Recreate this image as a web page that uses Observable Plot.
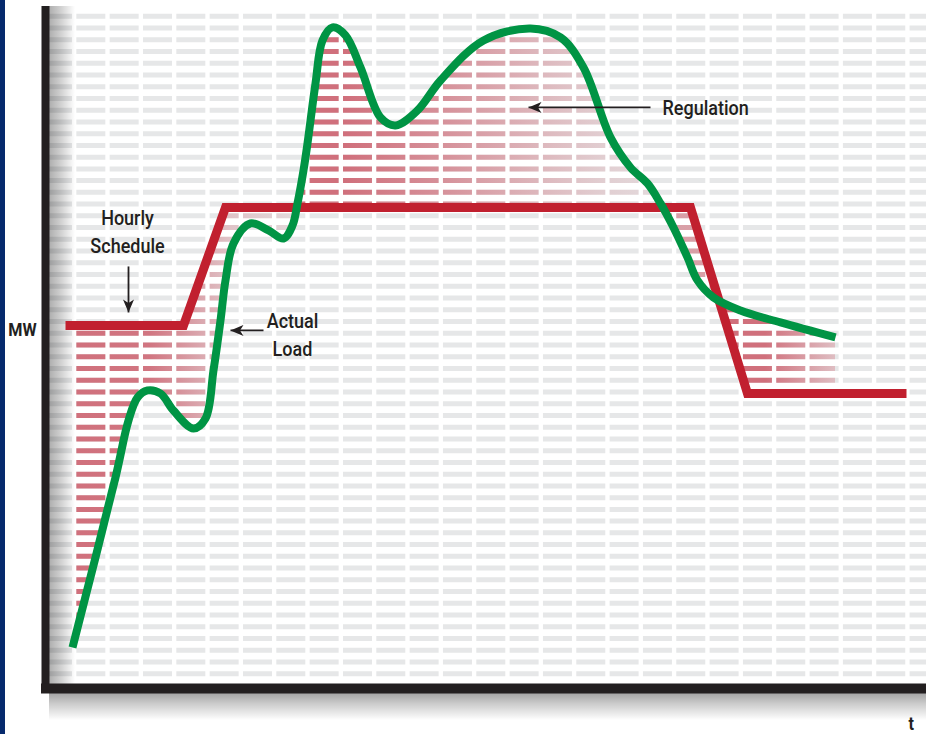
<!DOCTYPE html>
<html><head><meta charset="utf-8">
<script src="https://cdn.jsdelivr.net/npm/d3@7"></script>
<script src="https://cdn.jsdelivr.net/npm/@observablehq/plot@0.6"></script>
<style>
html,body{margin:0;padding:0;background:#fff;}
#wrap{position:relative;width:926px;height:734px;overflow:hidden;background:#fff;}
#wrap svg{position:absolute;left:0;top:0;}
#stripe{position:absolute;left:0;top:0;width:5px;height:734px;background:#062a6d;z-index:2;}
</style></head><body><div id="wrap"><div id="stripe"></div></div>
<script>
// ---- data (time units on x, MW units on y) ----
const loadT  = [0.81, 2.10, 2.49, 2.76, 3.06, 3.45, 3.84, 4.44, 4.80, 5.04, 5.25, 5.40, 5.64, 6.15, 6.69, 7.14, 7.41, 7.56, 7.74, 7.86, 8.10, 8.31, 8.61, 9.00, 9.45, 10.05, 10.50, 11.16, 11.85, 13.14, 14.55, 15.45, 16.14, 16.95, 17.55, 18.06, 18.45, 18.84, 19.26, 19.56, 20.04, 20.85, 22.05, 23.70];
const loadMW = [3.24, 17.72, 22.57, 24.53, 25.13, 24.87, 23.42, 21.89, 22.74, 26.83, 31.09, 34.50, 37.65, 39.35, 38.76, 38.07, 39.18, 41.06, 43.87, 46.17, 51.28, 54.94, 56.05, 55.37, 52.64, 48.38, 47.70, 48.98, 51.53, 54.94, 55.96, 55.20, 52.64, 46.68, 44.12, 42.76, 41.06, 39.01, 36.46, 34.50, 33.05, 31.94, 30.92, 29.64];
const schedT  = [0.60, 4.14, 5.40, 19.35, 21.06, 25.83];
const schedMW = [30.66, 30.66, 40.72, 40.72, 24.87, 24.87];

const labelText   = ["Hourly\nSchedule", "Actual\nLoad"];
const labelT      = [2.46, 7.41];
const labelMW     = [38.79, 30.02];
const regLabel    = ["Regulation"];
const regLabelT   = [18.51];
const regLabelMW  = [49.1];

const pointerFromT  = [2.49, 6.54, 18.15];
const pointerFromMW = [35.69, 30.24, 49.23];
const pointerToT    = [2.49, 5.55, 14.49];
const pointerToMW   = [31.77, 30.24, 49.23];

const axisLabelText = ["MW", "t"];
const axisLabelT    = [-0.69, 25.97];
const axisLabelMW   = [30.3, -3.3];

const T_MAX = 26.43, MW_MAX = 58;
const gridRows = d3.range(1, 58);

// ---- tables ----
const load  = loadT.map((t, i) => ({t, mw: loadMW[i]}));
const sched = schedT.map((t, i) => ({t, mw: schedMW[i]}));
const labels = labelText.map((text, i) => ({text, t: labelT[i], mw: labelMW[i]}));
const regLabels = regLabel.map((text, i) => ({text, t: regLabelT[i], mw: regLabelMW[i]}));
const pointers = pointerFromT.map((t, i) => ({t1: t, m1: pointerFromMW[i], t2: pointerToT[i], m2: pointerToMW[i]}));
const axisLabels = axisLabelText.map((text, i) => ({text, t: axisLabelT[i], mw: axisLabelMW[i]}));

const FONT = 'Roboto, "DejaVu Sans Condensed", sans-serif';
const INK = "#231f20";
const dash = "29 4.33";

const marks = {
  grid:   Plot.ruleY(gridRows, {y: d => d, x1: () => -0.06, x2: () => T_MAX, stroke: "#e6e7e8", strokeWidth: 5, strokeDasharray: dash}),
  reg:    Plot.ruleY(gridRows, {y: d => d, x1: () => -0.06, x2: () => T_MAX, stroke: "url(#regGrad)", strokeWidth: 5, strokeDasharray: dash}),
  loadA:  Plot.areaY(load, {x: "t", y: "mw", curve: "catmull-rom", fill: "#000", fillOpacity: 0}),
  schedA: Plot.areaY(sched, {x: "t", y: "mw", fill: "#000", fillOpacity: 0}),
  shL:    Plot.rect([0], {x1: () => 0.12, x2: () => 0.9, y1: () => -0.68, y2: () => 57.83, fill: "url(#shadowL)"}),
  shB:    Plot.rect([0], {x1: () => 0.12, x2: () => T_MAX, y1: () => -3.0, y2: () => -0.68, fill: "url(#shadowB)"}),
  schedL: Plot.line(sched, {x: "t", y: "mw", stroke: "#c1202f", strokeWidth: 9, strokeLinecap: "butt", strokeLinejoin: "miter", strokeMiterlimit: 10}),
  loadL:  Plot.line(load, {x: "t", y: "mw", curve: "catmull-rom", stroke: "#009444", strokeWidth: 8, strokeLinecap: "butt"}),
  axY:    Plot.ruleX([0], {y1: () => -0.68, y2: () => 57.83, stroke: INK, strokeWidth: 8}),
  axX:    Plot.ruleY([-0.26], {x1: () => -0.12, x2: () => T_MAX, stroke: INK, strokeWidth: 10}),
  ptr:    Plot.link(pointers, {x1: "t1", y1: "m1", x2: "t2", y2: "m2", stroke: INK, strokeWidth: 1.8}),
  lab:    Plot.text(labels, {x: "t", y: "mw", text: "text", textAnchor: "middle", lineHeight: 1.4, fontSize: 20, fontWeight: 500, fill: INK}),
  regLab: Plot.text(regLabels, {x: "t", y: "mw", text: "text", textAnchor: "start", fontSize: 20, fontWeight: 500, fill: INK}),
  axLab:  Plot.text(axisLabels, {x: "t", y: "mw", text: "text", textAnchor: "middle", fontSize: 18, fontWeight: "bold", fill: INK})
};
const markKeys = Object.keys(marks);

const plot = Plot.plot({
  width: 926, height: 734,
  marginLeft: 45, marginRight: 0, marginTop: 4, marginBottom: 49,
  x: {domain: [0, T_MAX], axis: null},
  y: {domain: [0, MW_MAX], axis: null},
  style: {background: "transparent", fontFamily: FONT, overflow: "visible"},
  marks: markKeys.map(k => marks[k])
});

document.getElementById("wrap").appendChild(plot);

// map rendered mark groups by order
const groups = [...plot.children].filter(n => n.tagName.toLowerCase() === "g");
const G = {};
markKeys.forEach((k, i) => G[k] = groups[i]);

// ---- defs: gradients, clip, markers ----
const svgns = "http://www.w3.org/2000/svg";
const svg = d3.select(plot);
const defs = svg.insert("defs", ":first-child");
const W = 926;
const RED_DASH = "#d0707c";
const regStops = [[72,1],[150,0.95],[230,0.3],[296,0.12],[296.5,1],[345,1],[450,0.7],[540,0.4],[600,0.22],[661,0.1],[661.5,0.6],[717,0.6],[717.5,1],[765,1],[835,0.35],[870,0]];
const rg = defs.append("linearGradient").attr("id", "regGrad").attr("gradientUnits", "userSpaceOnUse")
  .attr("x1", 0).attr("x2", W).attr("y1", 0).attr("y2", 0);
regStops.forEach(([px, op]) => rg.append("stop").attr("offset", px / W).attr("stop-color", RED_DASH).attr("stop-opacity", op));

const sl = defs.append("linearGradient").attr("id", "shadowL").attr("x1", 0).attr("x2", 1).attr("y1", 0).attr("y2", 0);
[[0,0.32],[0.4,0.2],[1,0]].forEach(([o, a]) => sl.append("stop").attr("offset", o).attr("stop-color", "#000").attr("stop-opacity", a));
const sb = defs.append("linearGradient").attr("id", "shadowB").attr("x1", 0).attr("x2", 0).attr("y1", 0).attr("y2", 1);
[[0,0.36],[0.4,0.2],[1,0]].forEach(([o, a]) => sb.append("stop").attr("offset", o).attr("stop-color", "#000").attr("stop-opacity", a));

const xS = d3.scaleLinear([0, T_MAX], [45, 926]);
const yS = d3.scaleLinear([0, MW_MAX], [685, 4]);
defs.append("clipPath").attr("id", "xClip").append("rect")
  .attr("x", xS(loadT[0])).attr("y", 0)
  .attr("width", xS(loadT[loadT.length - 1]) - xS(loadT[0])).attr("height", 734);

function pathOf(g, data, curve) {
  const n = g && g.querySelector("path");
  if (n && n.getAttribute("d")) return n.getAttribute("d");
  return d3.area().x(d => xS(d.t)).y0(yS(0)).y1(d => yS(d.mw)).curve(curve)(data);
}
const dLoad = pathOf(G.loadA, load, d3.curveCatmullRom);
const dSched = pathOf(G.schedA, sched, d3.curveLinear);
defs.append("clipPath").attr("id", "regClip").append("path")
  .attr("d", dLoad + dSched).attr("clip-rule", "evenodd");
const regG = G.reg;
if (regG) {
  const wrapper = document.createElementNS(svgns, "g");
  wrapper.setAttribute("clip-path", "url(#xClip)");
  regG.parentNode.insertBefore(wrapper, regG);
  wrapper.appendChild(regG);
  regG.setAttribute("clip-path", "url(#regClip)");
}

const mk = defs.append("marker").attr("id", "ah").attr("viewBox", "0 0 13 11")
  .attr("refX", 13).attr("refY", 5.5).attr("markerWidth", 13).attr("markerHeight", 11)
  .attr("markerUnits", "userSpaceOnUse").attr("orient", "auto");
mk.append("path").attr("d", "M0,0 L13,5.5 L0,11 L3.5,5.5 Z").attr("fill", INK);
if (G.ptr) G.ptr.querySelectorAll("path").forEach(p => p.setAttribute("marker-end", "url(#ah)"));

// condensed look for the labels (Myriad-like)
[G.lab, G.regLab, G.axLab].forEach(g => g && g.querySelectorAll("text").forEach(t => {
  const tr = t.getAttribute("transform") || "";
  t.setAttribute("transform", tr + " scale(0.9,1)");
}));
</script></body></html>
